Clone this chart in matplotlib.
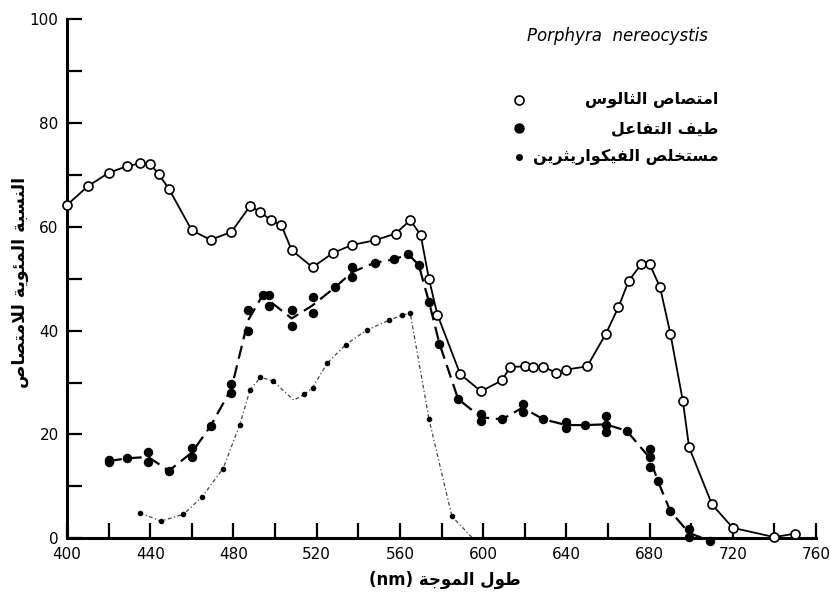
import numpy as np
import pandas as pd
import matplotlib
matplotlib.use("Agg")
import matplotlib.pyplot as plt
from matplotlib.ticker import MultipleLocator

# open circles: thallus absorption
thallus_wl = [400, 410, 420, 429, 435, 440, 444, 449, 460, 469, 479, 488, 493, 498,
              503, 508, 518, 528, 537, 548, 558, 565, 570, 574, 578, 589, 599, 609,
              613, 620, 624, 629, 635, 640, 650, 659, 665, 670, 676, 680, 685, 690,
              696, 699, 710, 720, 740, 750]
thallus_abs = [64.2, 67.8, 70.4, 71.7, 72.2, 72.1, 70.2, 67.3, 59.3, 57.5, 59.0, 64.0,
               62.8, 61.3, 60.3, 55.5, 52.2, 55.0, 56.5, 57.4, 58.7, 61.3, 58.4, 49.9,
               43.1, 31.6, 28.3, 30.4, 33.0, 33.1, 33.0, 33.0, 31.9, 32.5, 33.1, 39.4,
               44.5, 49.6, 52.8, 52.8, 48.4, 39.4, 26.4, 17.5, 6.5, 2.0, 0.2, 0.9]

# filled circles: action spectrum (replicates share a wavelength)
action_wl = [420, 420, 429, 439, 439, 449, 460, 460, 469, 479, 479, 487, 487, 494,
             497, 497, 508, 508, 518, 518, 529, 537, 537, 548, 557, 564, 569, 574,
             579, 588, 599, 599, 609, 619, 619, 629, 640, 640, 649, 659, 659, 659,
             669, 680, 680, 680, 684, 690, 699, 699, 709]
action_val = [15.0, 14.7, 15.4, 16.6, 14.7, 13.0, 17.3, 15.7, 21.6, 29.7, 27.9, 43.9,
              40.0, 46.8, 46.8, 44.8, 43.9, 40.8, 46.4, 43.3, 48.4, 52.2, 50.3, 53.1,
              53.7, 54.7, 52.7, 45.5, 37.5, 26.8, 24.0, 22.6, 22.9, 25.9, 24.4, 22.9,
              22.4, 21.2, 21.8, 23.6, 21.8, 20.4, 20.7, 17.1, 15.7, 13.7, 11.0, 5.2,
              1.7, 0.3, -0.5]

# small dots: phycoerythrin extract
phyco_wl = [435, 445, 456, 465, 475, 483, 488, 493, 499, 509, 514, 518, 525, 534,
            544, 555, 561, 565, 574, 585, 595]
phyco_val = [4.9, 3.3, 4.6, 8.0, 13.4, 21.8, 28.6, 31.0, 30.3, 26.6, 27.7, 29.0,
             33.7, 37.3, 40.1, 42.0, 43.0, 43.3, 22.9, 4.2, 0.0]
phyco_marked = [0, 1, 2, 3, 4, 5, 6, 7, 8, 10, 11, 12, 13, 14, 15, 16, 17, 18, 19]

x_ticks = [400, 440, 480, 520, 560, 600, 640, 680, 720, 760]
y_ticks = [0, 20, 40, 60, 80, 100]

species = "Porphyra  nereocystis"
legend_labels = ["امتصاص الثالوس", "طيف التفاعل", "مستخلص الفيكواريثرين"]
ylabel_text = "النسبة المئوية للامتصاص"
xlabel_text = "طول الموجة"

# --- very small Arabic shaper (presentation forms + RTL reversal) ---
FORMS = {
    'ا': (0xFE8D, 0xFE8E, None, None), 'ب': (0xFE8F, 0xFE90, 0xFE91, 0xFE92),
    'ة': (0xFE93, 0xFE94, None, None), 'ت': (0xFE95, 0xFE96, 0xFE97, 0xFE98),
    'ث': (0xFE99, 0xFE9A, 0xFE9B, 0xFE9C), 'ج': (0xFE9D, 0xFE9E, 0xFE9F, 0xFEA0),
    'خ': (0xFEA5, 0xFEA6, 0xFEA7, 0xFEA8), 'ر': (0xFEAD, 0xFEAE, None, None),
    'س': (0xFEB1, 0xFEB2, 0xFEB3, 0xFEB4), 'ص': (0xFEB9, 0xFEBA, 0xFEBB, 0xFEBC),
    'ط': (0xFEC1, 0xFEC2, 0xFEC3, 0xFEC4), 'ع': (0xFEC9, 0xFECA, 0xFECB, 0xFECC),
    'ف': (0xFED1, 0xFED2, 0xFED3, 0xFED4), 'ك': (0xFED9, 0xFEDA, 0xFEDB, 0xFEDC),
    'ل': (0xFEDD, 0xFEDE, 0xFEDF, 0xFEE0), 'م': (0xFEE1, 0xFEE2, 0xFEE3, 0xFEE4),
    'ن': (0xFEE5, 0xFEE6, 0xFEE7, 0xFEE8), 'و': (0xFEED, 0xFEEE, None, None),
    'ي': (0xFEF1, 0xFEF2, 0xFEF3, 0xFEF4), 'ئ': (0xFE89, 0xFE8A, 0xFE8B, 0xFE8C),
}


def joins_next(c):
    return c in FORMS and FORMS[c][2] is not None


def shape(text):
    res = []
    i = 0
    n = len(text)
    while i < n:
        c = text[i]
        if c not in FORMS:
            res.append(c)
            i += 1
            continue
        prev = text[i - 1] if i > 0 else None
        nxt = text[i + 1] if i < n - 1 else None
        p = prev is not None and joins_next(prev)
        if c == 'ل' and nxt == 'ا':
            res.append(chr(0xFEFC if p else 0xFEFB))
            i += 2
            continue
        q = joins_next(c) and nxt in FORMS
        iso, fin, ini, med = FORMS[c]
        if p and q:
            res.append(chr(med))
        elif p:
            res.append(chr(fin))
        elif q:
            res.append(chr(ini))
        else:
            res.append(chr(iso))
        i += 1
    return ''.join(reversed(res))


fig = plt.figure(figsize=(8.31, 6.0), dpi=100)
ax = fig.add_axes([0.0806, 0.103, 0.9014, 0.865])

ax.plot(thallus_wl, thallus_abs, color='black', lw=1.3, marker='o', ms=6.5,
        mfc='white', mec='black', mew=1.2, zorder=4, clip_on=False)

df = pd.DataFrame({'wl': action_wl, 'val': action_val})
action_line = df.groupby('wl')['val'].mean()
ax.plot(action_line.index, action_line.values, color='black', lw=1.6,
        dashes=(6, 3), zorder=3, clip_on=False)
ax.plot(action_wl, action_val, ls='none', marker='o', ms=5.8, color='black',
        zorder=3, clip_on=False)

ax.plot(phyco_wl, phyco_val, color='#444444', lw=0.9, dashes=(3, 2, 1, 2),
        marker='o', ms=3.0, mfc='black', mec='black', markevery=phyco_marked,
        zorder=2, clip_on=False)

ax.set_xlim(400, 760)
ax.set_ylim(0, 100)
ax.set_xticks(x_ticks)
ax.set_xticklabels([str(t) for t in x_ticks])
ax.xaxis.set_minor_locator(MultipleLocator(20))
ax.set_yticks(y_ticks)
ax.yaxis.set_minor_locator(MultipleLocator(10))
ax.tick_params(which='both', direction='in', length=11, width=1.6, labelsize=11,
               colors='black')
ax.tick_params(axis='x', pad=6)
ax.tick_params(axis='y', pad=6)
for s in ['top', 'right']:
    ax.spines[s].set_visible(False)
for s in ['left', 'bottom']:
    ax.spines[s].set_linewidth(2.2)

# legend drawn by hand
fig.text(0.634, 0.94, species, fontsize=12, style='italic', ha='left', va='center')
leg_y = [0.833, 0.786, 0.738]
leg_styles = [dict(marker='o', ms=6.5, mfc='white', mec='black', mew=1.2),
              dict(marker='o', ms=6.5, color='black'),
              dict(marker='o', ms=4, color='black')]
for yy, lab, st in zip(leg_y, legend_labels, leg_styles):
    fig.add_artist(plt.Line2D([0.625], [yy], transform=fig.transFigure, ls='none', **st))
    fig.text(0.865, yy, shape(lab), fontsize=11.5, fontweight='bold', ha='right',
             va='center', family=['DejaVu Sans'])

fig.text(0.024, 0.53, shape(ylabel_text), rotation=90, fontsize=12.5, fontweight='bold',
         ha='center', va='center', family=['DejaVu Sans'])
fig.text(0.535, 0.033, "(nm) " + shape(xlabel_text), fontsize=12, fontweight='bold',
         ha='center', va='center', family=['DejaVu Sans'])

fig.savefig('out.png', dpi=100)
